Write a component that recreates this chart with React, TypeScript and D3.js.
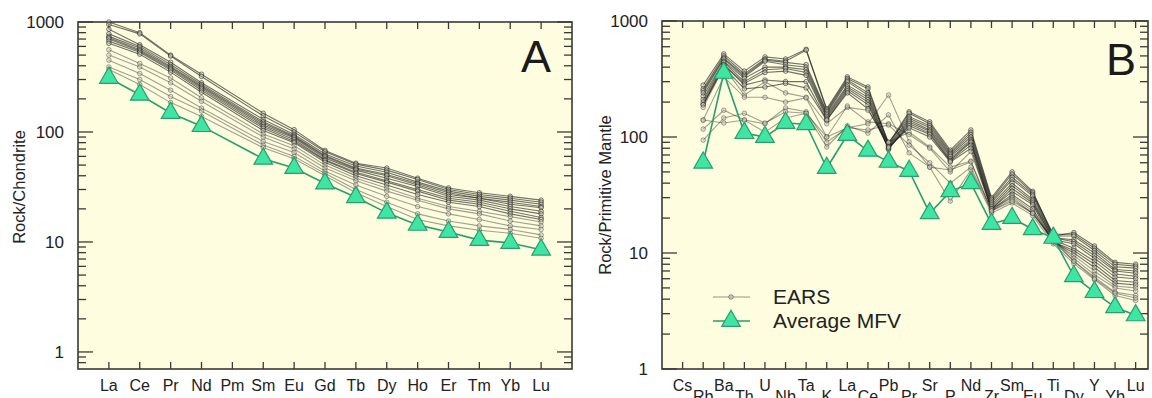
import React from 'react'
import * as d3 from 'd3'

const FONT = '"Liberation Sans", Arial, Helvetica, sans-serif'

// REE pattern, chondrite normalised (Pm not analysed)
const reeElements = ['La', 'Ce', 'Pr', 'Nd', 'Pm', 'Sm', 'Eu', 'Gd', 'Tb', 'Dy', 'Ho', 'Er', 'Tm', 'Yb', 'Lu']
const reeEars = [
  [1000, 800, 500, 335, null, 148, 105, 68, 52, 47, 38, 31, 28, 26, 24],
  [950, 780, 490, 320, null, 140, 100, 66, 51, 45, 37, 30, 27, 25, 23],
  [860, 620, 430, 280, null, 130, 95, 63, 49, 43, 35, 29, 26, 24, 22],
  [780, 600, 410, 270, null, 124, 92, 61, 47, 41, 34, 28, 25, 23, 21],
  [740, 580, 395, 262, null, 120, 90, 60, 46, 40, 33, 27, 25, 22, 20.5],
  [720, 560, 385, 255, null, 116, 88, 58, 45, 38, 32, 26, 24, 21, 19],
  [700, 545, 375, 248, null, 112, 85, 56, 43, 36, 30, 25, 23, 20, 18],
  [670, 530, 365, 240, null, 108, 82, 55, 42, 35, 29, 24, 22, 19, 16.7],
  [640, 510, 350, 230, null, 103, 80, 53, 40, 33, 27, 23, 21, 18, 16],
  [560, 420, 310, 205, null, 96, 75, 50, 38, 31, 25, 21, 19, 17, 15.2],
  [500, 390, 280, 190, null, 90, 70, 47, 36, 29, 24, 20, 18, 15.5, 14],
  [450, 340, 240, 165, null, 82, 65, 44, 33, 26, 21, 18, 16, 14, 13],
  [390, 300, 210, 155, null, 76, 60, 42, 30, 23, 18, 15.5, 14, 13, 11.6],
  [370, 270, 185, 138, null, 72, 57, 40, 28, 21, 16, 14, 12.8, 12, 10.8],
]
const reeMfv = [310, 218, 149, 113, null, 57, 47, 34, 25.5, 18.4, 14.3, 12.3, 10.4, 9.8, 8.5]

// multi-element pattern, primitive mantle normalised (Cs not analysed)
const spiderElements = ['Cs', 'Rb', 'Ba', 'Th', 'U', 'Nb', 'Ta', 'K', 'La', 'Ce', 'Pb', 'Pr', 'Sr', 'P', 'Nd', 'Zr', 'Sm', 'Eu', 'Ti', 'Dy', 'Y', 'Yb', 'Lu']
const spiderEars = [
  [null, 280, 520, 370, 490, 470, 570, 175, 330, 270, 88, 165, 135, 77, 115, 30, 50, 34, 14, 15, 11.5, 8.3, 8.0],
  [null, 260, 500, 350, 470, 450, 560, 170, 320, 260, 85, 160, 130, 74, 110, 29, 48, 33, 14.5, 14.5, 11, 8, 7.7],
  [null, 250, 480, 340, 460, 440, 420, 165, 310, 240, 90, 150, 125, 72, 105, 28, 45, 32, 14, 14, 10.5, 7.6, 7.4],
  [null, 240, 470, 330, 450, 420, 400, 160, 300, 230, 84, 145, 120, 70, 100, 27, 43, 31, 13.5, 13, 10, 7.2, 7.0],
  [null, 225, 450, 320, 400, 400, 380, 155, 280, 220, 82, 140, 115, 68, 95, 26, 40, 29, 13.5, 12.5, 9.5, 7, 6.7],
  [null, 210, 440, 300, 380, 390, 360, 150, 270, 210, 80, 135, 112, 65, 92, 25, 38, 28, 13, 12, 9, 6.6, 6.3],
  [null, 200, 420, 290, 360, 370, 340, 145, 260, 200, 78, 130, 108, 63, 90, 24, 36, 27, 13, 11, 8.5, 6.2, 6.0],
  [null, 190, 420, 280, 310, 300, 300, 140, 250, 190, 80, 125, 105, 62, 85, 24, 34, 26, 12.5, 10.5, 8, 5.8, 5.6],
  [null, 190, 400, 260, 270, 290, 265, 140, 240, 175, 82, 120, 100, 61, 80, 23.5, 32, 24, 12.5, 10, 7.5, 5.5, 5.3],
  [null, 180, 400, 230, 300, 240, 220, 130, 180, 170, 90, 110, 82, 55, 62, 23, 31, 23, 12.5, 9.5, 7, 5.2, 5.0],
  [null, 140, 330, 220, 220, 200, 217, 100, 185, 135, 130, 105, 80, 50, 75, 24, 30, 22, 13, 9, 6.5, 5, 4.7],
  [null, 117, 170, 140, 130, 178, 165, 90, 120, 130, 230, 91, 55, 52, 61, 23, 29, 22, 13, 8.5, 6.2, 4.6, 4.3],
  [null, 94, 146, 160, 132, 165, 160, 82, 125, 108, 155, 73, 55, 28, 52, 22, 27, 21, 12, 8.1, 5.9, 4.3, 3.9],
  [null, 140, 132, 140, 110, 146, 160, 100, 120, 115, 127, 85, 60, 40, 55, 23, 28, 22, 12.5, 8.5, 6.0, 4.5, 4.1],
]
const spiderMfv = [null, 60, 357, 108, 100, 132, 129, 54, 104, 76, 61, 51, 22, 34, 40, 17.8, 20, 16, 13.5, 6.3, 4.6, 3.4, 2.9]

const decadeLabels = [1, 10, 100, 1000]

const BG = '#fefde0'
const FRAME = '#3a3a34'
const GREEN_FILL = '#3fe6a3'
const GREEN_LINE = '#2a9f6c'

function minorTicks(lo: number, hi: number) {
  const out: number[] = []
  for (let d = 0.1; d < hi; d *= 10) {
    for (let k = 2; k <= 9; k++) {
      const v = d * k
      if (v > lo * 1.0001 && v < hi) out.push(v)
    }
  }
  return out
}

// points with their element index; missing elements are skipped so the line joins across them
function pts(s: (number | null)[]) {
  return s.map((v, i) => [i, v] as [number, number | null]).filter(p => p[1] != null) as [number, number][]
}

function Panel(props: any) {
  const { elements, ears, mfv, left, right, top, bottom, xMax, yMin, title, titleX, titleY, yLabel, yLabelX, yLabelY, stagger, legend } = props
  const x = d3.scaleLinear().domain([-1, xMax]).range([left, right])
  const y = d3.scaleLog().domain([yMin, 1000]).range([bottom, top])
  const line = d3.line<[number, number]>()
    .x(p => x(p[0]))
    .y(p => y(p[1]))
  const tri = d3.symbol().type(d3.symbolTriangle).size(150)()
  const majors = decadeLabels.filter(v => v >= yMin)
  const minors = minorTicks(yMin, 1000)

  return (
    <g>
      <rect x={left} y={top} width={right - left} height={bottom - top} fill={BG} />
      {/* ticks */}
      {elements.map((e: string, i: number) => (
        <g key={e} stroke={FRAME} strokeWidth={1.3}>
          <line x1={x(i)} x2={x(i)} y1={bottom} y2={bottom - 7} />
          <line x1={x(i)} x2={x(i)} y1={top} y2={top + 7} />
        </g>
      ))}
      {majors.map(v => (
        <g key={'M' + v} stroke={FRAME} strokeWidth={1.3}>
          <line x1={left} x2={left + 15} y1={y(v)} y2={y(v)} />
          <line x1={right} x2={right - 15} y1={y(v)} y2={y(v)} />
        </g>
      ))}
      {minors.map(v => (
        <g key={'m' + v} stroke={FRAME} strokeWidth={1.3}>
          <line x1={left} x2={left + 8} y1={y(v)} y2={y(v)} />
          <line x1={right} x2={right - 8} y1={y(v)} y2={y(v)} />
        </g>
      ))}
      <rect x={left} y={top} width={right - left} height={bottom - top} fill="none" stroke={FRAME} strokeWidth={1.6} />
      {/* labels */}
      {majors.map(v => (
        <text key={'t' + v} x={left - 14} y={y(v) + 6} textAnchor="end" fontSize={17} fontFamily={FONT} fill="#222">{v}</text>
      ))}
      {elements.map((e: string, i: number) => (
        <text key={'e' + e} x={x(i)} y={stagger && i % 2 === 1 ? 402 : 391} textAnchor="middle" fontSize={16} fontFamily={FONT} fill="#222">{e}</text>
      ))}
      <text transform={`translate(${yLabelX},${yLabelY}) rotate(-90)`} textAnchor="middle" fontSize={16.5} fontFamily={FONT} fill="#222">{yLabel}</text>
      <text x={titleX} y={titleY} fontSize={45} fontFamily={FONT} fill="#1a1a1a">{title}</text>
      {/* EARS samples */}
      {ears.map((s: (number | null)[], k: number) => (
        <path key={'l' + k} d={line(pts(s)) || ''} fill="none" stroke="#161612" strokeOpacity={k < 9 ? 0.6 : 0.4} strokeWidth={1.1} />
      ))}
      {ears.map((s: (number | null)[], k: number) => pts(s).map(p => (
        <circle key={'c' + k + '-' + p[0]} cx={x(p[0])} cy={y(p[1])} r={2.3} fill="#c8c8b8" fillOpacity={0.5} stroke="#161612" strokeOpacity={k < 9 ? 0.65 : 0.45} strokeWidth={0.8} />
      )))}
      {/* average MFV */}
      <path d={line(pts(mfv)) || ''} fill="none" stroke={GREEN_LINE} strokeWidth={1.6} />
      {pts(mfv).map(p => (
        <path key={'g' + p[0]} d={tri || ''} transform={`translate(${x(p[0])},${y(p[1])})`} fill={GREEN_FILL} stroke={GREEN_LINE} strokeWidth={1.2} />
      ))}
      {legend && (
        <g fontFamily={FONT} fontSize={21} fill="#222">
          <line x1={713} x2={750} y1={297} y2={297} stroke="#161612" strokeOpacity={0.45} />
          <circle cx={731} cy={297} r={2.3} fill="#c8c8b8" stroke="#161612" strokeOpacity={0.5} strokeWidth={0.8} />
          <text x={773} y={304}>EARS</text>
          <line x1={713} x2={750} y1={321} y2={321} stroke={GREEN_LINE} strokeWidth={1.6} />
          <path d={tri || ''} transform="translate(731,321)" fill={GREEN_FILL} stroke={GREEN_LINE} strokeWidth={1.2} />
          <text x={773} y={328}>Average MFV</text>
        </g>
      )}
    </g>
  )
}

export default function App() {
  return (
    <svg width={1152} height={398} style={{ position: 'absolute', left: 0, top: 0, background: '#fff' }}>
      <Panel elements={reeElements} ears={reeEars} mfv={reeMfv}
        left={78} right={572} top={22} bottom={369} xMax={15} yMin={0.7}
        title="A" titleX={521} titleY={72}
        yLabel="Rock/Chondrite" yLabelX={25} yLabelY={187} />
      <Panel elements={spiderElements} ears={spiderEars} mfv={spiderMfv}
        left={662} right={1148} top={21} bottom={369} xMax={22.6} yMin={1}
        title="B" titleX={1106} titleY={75}
        yLabel="Rock/Primitive Mantle" yLabelX={611} yLabelY={195} stagger legend />
    </svg>
  )
}
